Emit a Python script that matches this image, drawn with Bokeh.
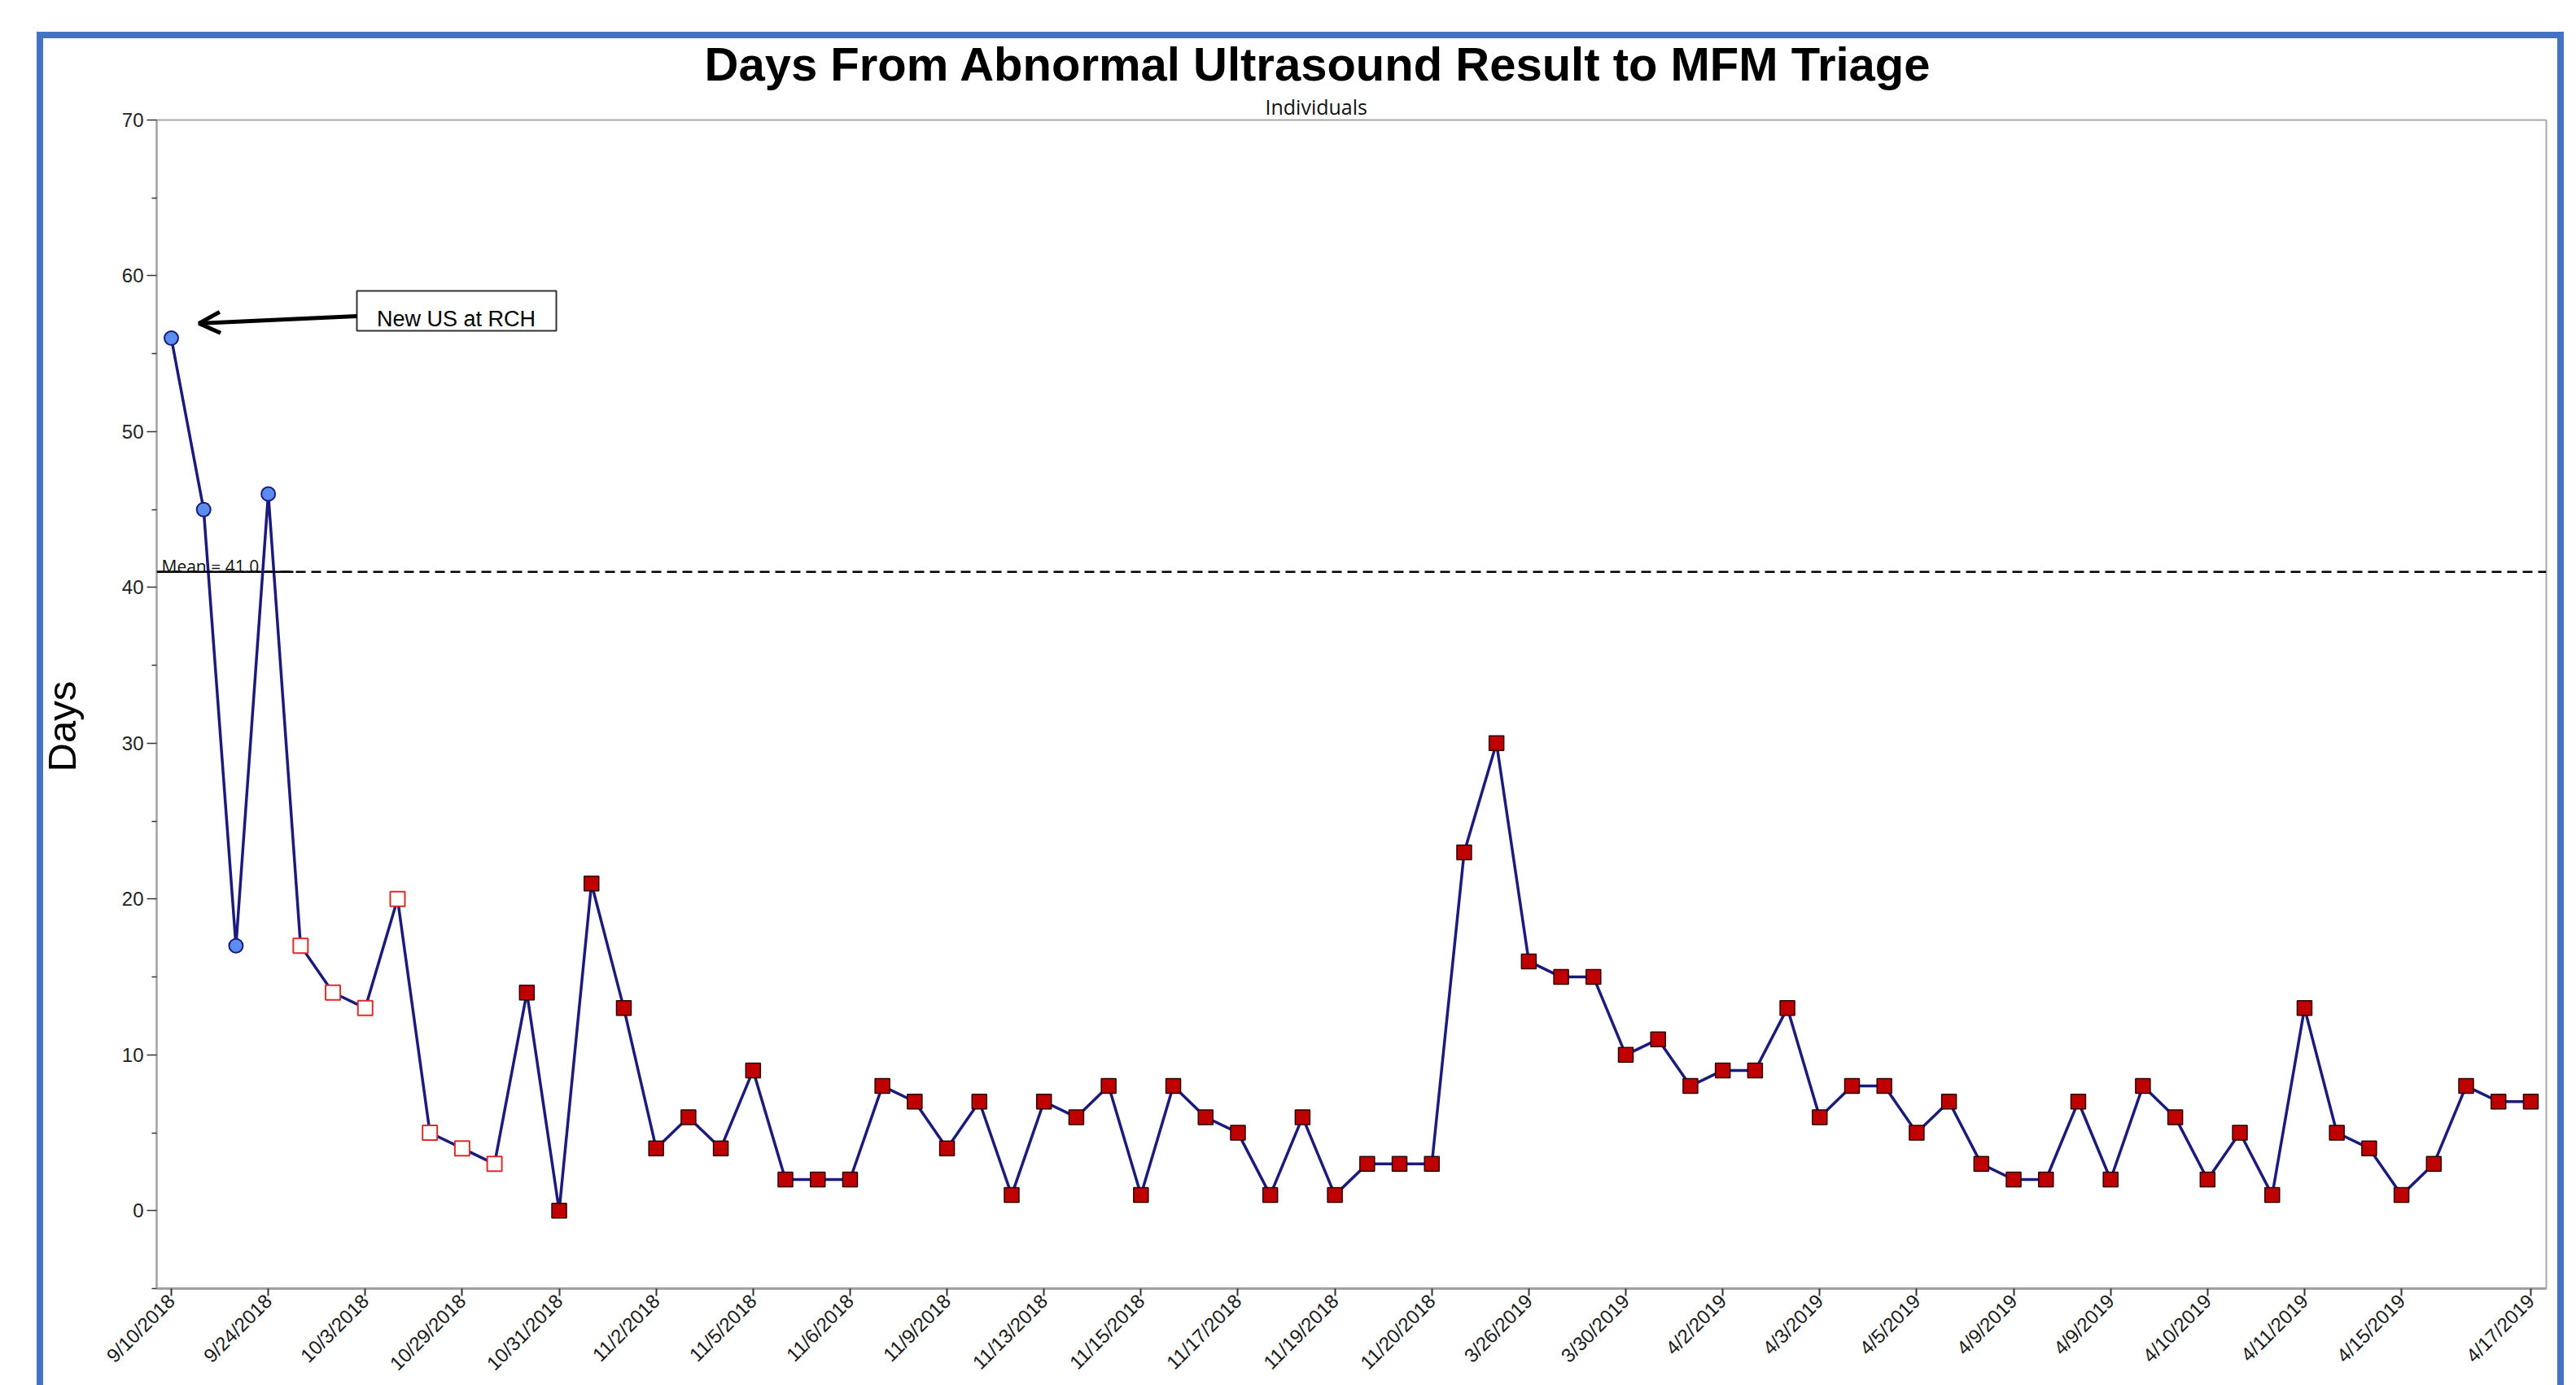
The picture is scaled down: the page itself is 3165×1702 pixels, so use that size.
import math
from bokeh.plotting import figure
from bokeh.models import (ColumnDataSource, FixedTicker, Label, Arrow, OpenHead,
                          BoxAnnotation, Span, Title)
from bokeh.embed import file_html
from bokeh.resources import INLINE

# ---------------- data ----------------
days = [56, 45, 17, 46, 17, 14, 13, 20, 5, 4, 3, 14, 0, 21, 13, 4, 6, 4, 9, 2,
        2, 2, 8, 7, 4, 7, 1, 7, 6, 8, 1, 8, 6, 5, 1, 6, 1, 3, 3, 3,
        23, 30, 16, 15, 15, 10, 11, 8, 9, 9, 13, 6, 8, 8, 5, 7, 3, 2, 2, 7,
        2, 8, 6, 2, 5, 1, 13, 5, 4, 1, 3, 8, 7, 7]
phase = ["baseline"] * 4 + ["open"] * 7 + ["filled"] * 63
tick_index = [0, 3, 6, 9, 12, 15, 18, 21, 24, 27, 30, 33, 36, 39, 42, 45, 48,
              51, 54, 57, 60, 63, 66, 69, 73]
tick_labels = ["9/10/2018", "9/24/2018", "10/3/2018", "10/29/2018", "10/31/2018",
               "11/2/2018", "11/5/2018", "11/6/2018", "11/9/2018", "11/13/2018",
               "11/15/2018", "11/17/2018", "11/19/2018", "11/20/2018", "3/26/2019",
               "3/30/2019", "4/2/2019", "4/3/2019", "4/5/2019", "4/9/2019",
               "4/9/2019", "4/10/2019", "4/11/2019", "4/15/2019", "4/17/2019"]
y_major = [0, 10, 20, 30, 40, 50, 60, 70]
y_minor = [-5, 5, 15, 25, 35, 45, 55, 65]
mean_days = 41.0
title_text = "Days From Abnormal Ultrasound Result to MFM Triage"
subtitle_text = "Individuals"
y_title = "Days"
note_text = "New US at RCH"

# ---------------- layout (canvas pixels) ----------------
W, H = 3160, 1702
FL, FR, FT, FB = 192, 3128, 147, 1583
X0, X1 = -0.453, 73.48
Y0, Y1 = -5, 70
BLUE = "#4472c4"


def px2x(cx):
    return X0 + (cx - FL) * (X1 - X0) / (FR - FL)


def py2y(cy):
    return Y1 - (cy - FT) * (Y1 - Y0) / (FB - FT)


# blue frame painted behind the (transparent) canvas border area
frame_bg = (
    f"linear-gradient({BLUE},{BLUE}) 45px 39px / 8px 1702px no-repeat, "
    f"linear-gradient({BLUE},{BLUE}) 45px 39px / 3105px 8px no-repeat, "
    f"linear-gradient({BLUE},{BLUE}) 3142px 39px / 8px 1702px no-repeat, "
    "#ffffff"
)

p = figure(width=W, height=H, x_range=(X0, X1), y_range=(Y0, Y1),
           output_backend="svg", toolbar_location=None,
           title=title_text,
           min_border_left=FL, min_border_right=W - FR,
           min_border_top=FT, min_border_bottom=H - FB,
           styles={"background": frame_bg})
p.border_fill_alpha = 0
p.background_fill_color = "white"
p.xgrid.visible = False
p.ygrid.visible = False
p.outline_line_color = "#a8a8a8"
p.outline_line_width = 2

FONT = "Liberation Sans"

# main title (outermost) and subtitle (right on the frame)
p.title.align = "left"
p.title.offset = 865 - FL
p.title.standoff = 2
p.title.text_font = FONT
p.title.text_font_size = "58px"
p.title.text_font_style = "bold"
p.title.text_color = "black"
p.add_layout(Title(text=subtitle_text, align="left", offset=1554 - FL, standoff=0,
                   text_font="Open Sans", text_font_size="25px",
                   text_font_style="normal", text_color="#111111"), "above")

# x axis
p.xaxis.ticker = FixedTicker(ticks=tick_index)
p.xaxis.major_label_overrides = {i: l for i, l in zip(tick_index, tick_labels)}
p.xaxis.major_label_orientation = math.pi / 4
p.xaxis.major_label_text_font = FONT
p.xaxis.major_label_text_font_size = "24px"
p.xaxis.major_label_text_color = "#1a1a1a"
p.xaxis.major_label_standoff = 2
p.xaxis.major_tick_out = 9
p.xaxis.major_tick_in = 0
p.xaxis.minor_tick_out = 0
p.xaxis.minor_tick_in = 0
p.xaxis.major_tick_line_color = "#333333"
p.xaxis.major_tick_line_width = 2
p.xaxis.axis_line_color = "#a0a0a0"
p.xaxis.axis_line_width = 3

# y axis
p.yaxis.ticker = FixedTicker(ticks=y_major, minor_ticks=y_minor)
p.yaxis.major_label_text_font = FONT
p.yaxis.major_label_text_font_size = "24px"
p.yaxis.major_label_text_color = "#222222"
p.yaxis.major_label_standoff = 4
p.yaxis.major_tick_out = 12
p.yaxis.major_tick_in = 0
p.yaxis.minor_tick_out = 6
p.yaxis.minor_tick_in = 0
p.yaxis.major_tick_line_color = "#333333"
p.yaxis.minor_tick_line_color = "#333333"
p.yaxis.major_tick_line_width = 1.5
p.yaxis.minor_tick_line_width = 1.5
p.yaxis.axis_line_color = "#a0a0a0"
p.yaxis.axis_line_width = 2
p.add_layout(Title(text=y_title, align="left", offset=1583 - 948, standoff=88,
                   text_font=FONT, text_font_size="49px", text_font_style="normal",
                   text_color="black"), "left")

# ---------------- mean line ----------------
p.add_layout(Span(location=mean_days, dimension="width", line_color="black",
                  line_width=2.5, line_dash="12 7"))
p.line(x=[X0, px2x(360)], y=[mean_days, mean_days], line_color="black", line_width=2.5)
p.add_layout(Label(x=X0, y=mean_days, x_offset=6, y_offset=7,
                   text=f"Mean = {mean_days:.1f}", text_font="Open Sans",
                   text_font_size="21px", text_color="#111111",
                   text_baseline="alphabetic", text_align="left"))

# ---------------- series ----------------
idx = list(range(len(days)))
p.line(x=idx, y=days, line_color="#1b1b7d", line_width=3.5)


def group(name):
    sel = [i for i in idx if phase[i] == name]
    return ColumnDataSource(dict(x=sel, y=[days[i] for i in sel]))


p.scatter("x", "y", source=group("baseline"), marker="circle", size=17,
          fill_color="#5b8def", line_color="#1b1b7d", line_width=2)
p.scatter("x", "y", source=group("open"), marker="square", size=18,
          fill_color="white", line_color="#dd2b2b", line_width=2)
p.scatter("x", "y", source=group("filled"), marker="square", size=18,
          fill_color="#c00000", line_color="#2a0000", line_width=1.5)

# ---------------- annotation box + arrow ----------------
p.add_layout(BoxAnnotation(left=px2x(438), right=px2x(683), top=py2y(357), bottom=py2y(406),
                           fill_color="white", fill_alpha=1.0,
                           line_color="#333333", line_width=2, line_alpha=1.0))
p.add_layout(Label(x=px2x(560), y=py2y(391), text=note_text, text_font=FONT,
                   text_font_size="27px", text_color="black",
                   text_align="center", text_baseline="alphabetic"))
p.add_layout(Arrow(end=OpenHead(size=26, line_width=5, line_color="black"),
                   x_start=px2x(438), y_start=py2y(388),
                   x_end=px2x(244), y_end=py2y(397),
                   line_color="black", line_width=5))

open("out.html", "w").write(file_html(p, INLINE))
